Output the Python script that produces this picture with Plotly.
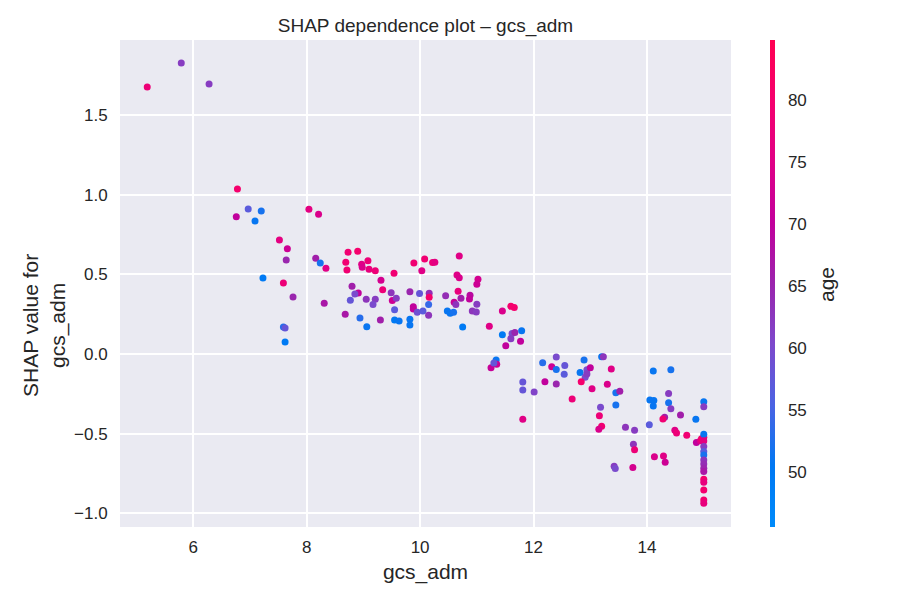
import plotly.graph_objects as go

gcs_adm = [5.19, 5.79, 6.28, 6.78, 6.76, 6.97, 7.20, 7.09, 7.52, 7.66, 7.64, 7.23, 7.59, 7.76, 7.59, 7.62, 7.62,
           8.04, 8.21, 8.16, 8.24, 8.34, 8.31, 8.68, 8.73, 8.90, 8.69, 8.71, 8.97, 9.08, 8.98, 9.10, 9.21,
           8.80, 8.91, 8.85, 8.77, 9.05, 9.21, 9.17, 8.94, 9.06, 9.30, 9.54, 9.31, 9.34, 9.49, 9.51, 9.58,
           9.55, 9.55, 9.63, 9.89, 10.08, 10.03, 10.22, 10.26, 9.82, 9.99, 10.16, 10.16, 9.88, 9.88, 10.15,
           9.95, 10.05, 10.15, 9.82, 9.82, 10.69, 10.65, 10.69, 11.02, 11.00, 10.45, 10.67, 10.60, 10.63,
           10.72, 10.88, 10.87, 11.00, 10.92, 10.99, 10.48, 10.53, 10.59, 10.75, 11.22, 11.45, 11.60, 11.66,
           11.45, 11.62, 11.67, 11.79, 11.60, 11.51, 11.77, 11.34, 11.35, 11.25, 11.30, 12.16, 12.40, 12.32,
           11.81, 11.81, 12.01, 11.81, 12.40, 12.55, 12.54, 12.20, 12.40, 12.68, 12.89, 12.82, 12.94, 13.00,
           12.91, 12.84, 13.03, 13.20, 13.23, 13.37, 13.30, 13.45, 13.52, 13.45, 13.18, 13.16, 13.20, 13.15,
           13.62, 13.78, 14.11, 14.42, 14.38, 14.05, 14.12, 14.11, 14.38, 14.42, 14.59, 14.31, 14.28, 14.86,
           14.04, 14.49, 14.52, 14.70, 13.76, 13.78, 13.75, 14.13, 14.29, 14.32, 14.87, 14.94, 14.96, 15.00,
           15.0, 15.0, 15.0, 15.0, 15.0, 15.0, 15.0, 15.0, 15.0, 15.0, 15.0, 15.0, 15.0, 15.0, 15.0, 15.0,
           13.42, 13.44, 12.94]

shap_values = [1.677, 1.828, 1.696, 1.036, 0.861, 0.911, 0.898, 0.835, 0.716, 0.660, 0.590, 0.477, 0.446, 0.358,
               0.170, 0.163, 0.075, 0.909, 0.878, 0.601, 0.572, 0.538, 0.318, 0.249, 0.639, 0.645, 0.576, 0.528,
               0.563, 0.586, 0.545, 0.532, 0.523, 0.425, 0.383, 0.377, 0.337, 0.344, 0.344, 0.310, 0.226, 0.171,
               0.214, 0.507, 0.463, 0.404, 0.385, 0.335, 0.350, 0.278, 0.214, 0.207, 0.572, 0.597, 0.523, 0.574,
               0.576, 0.391, 0.379, 0.381, 0.356, 0.297, 0.283, 0.310, 0.262, 0.270, 0.243, 0.218, 0.182, 0.616,
               0.496, 0.479, 0.469, 0.438, 0.366, 0.394, 0.325, 0.310, 0.350, 0.369, 0.345, 0.312, 0.270, 0.264,
               0.270, 0.256, 0.262, 0.170, 0.174, 0.270, 0.299, 0.291, 0.121, 0.128, 0.134, 0.145, 0.096, 0.052,
               0.080, -0.038, -0.065, -0.086, -0.057, -0.055, -0.019, -0.080, -0.176, -0.226, -0.239, -0.410,
               -0.098, -0.073, -0.128, -0.174, -0.188, -0.283, -0.038, -0.117, -0.100, -0.086, -0.146, -0.174,
               -0.218, -0.017, -0.017, -0.094, -0.190, -0.243, -0.235, -0.320, -0.335, -0.388, -0.454, -0.473,
               -0.460, -0.479, -0.107, -0.099, -0.249, -0.289, -0.293, -0.327, -0.306, -0.345, -0.383, -0.398,
               -0.408, -0.410, -0.444, -0.479, -0.496, -0.511, -0.567, -0.601, -0.714, -0.645, -0.641, -0.680,
               -0.557, -0.546, -0.532, -0.523,
               -0.300, -0.331, -0.505, -0.547, -0.582, -0.613, -0.634, -0.666, -0.691, -0.718, -0.739, -0.787,
               -0.806, -0.854, -0.917, -0.938,
               -0.705, -0.720, -0.126]

age = [78, 62, 62, 80, 70, 57, 52, 51, 76, 72, 65, 50, 78, 65, 53, 58, 50,
       76, 74, 66, 52, 75, 67, 67, 79, 80, 79, 79, 75, 78, 74, 77, 78,
       66, 70, 60, 58, 63, 62, 60, 53, 51, 66, 79, 73, 78, 63, 72, 62,
       57, 50, 51, 79, 79, 75, 78, 76, 65, 58, 64, 80, 70, 70, 54,
       59, 57, 63, 51, 51, 75, 75, 74, 73, 72, 64, 77, 71, 63,
       66, 69, 70, 62, 63, 62, 51, 51, 52, 50, 75, 74, 80, 80,
       50, 60, 65, 51, 62, 70, 70, 51, 72, 71, 58, 53, 60, 72,
       58, 58, 61, 75, 52, 58, 57, 70, 65, 78, 52, 51, 60, 70,
       60, 80, 75, 51, 63, 75, 74, 52, 66, 52, 60, 78, 79, 74,
       63, 62, 51, 52, 62, 51, 51, 51, 52, 62, 66, 66, 79, 51,
       57, 75, 78, 79, 63, 78, 73, 74, 75, 72, 70, 75, 80, 78,
       51, 62, 51, 76, 62, 57, 52, 63, 64, 65, 67, 80, 77, 80, 80, 77,
       62, 60, 62]

age_ticks = [50, 55, 60, 65, 70, 75, 80]
x_ticks = [6, 8, 10, 12, 14]
y_ticks = [-1.0, -0.5, 0.0, 0.5, 1.0, 1.5]

shap_red_blue = [[0.0, "#008bfb"], [0.125, "#0078f3"], [0.25, "#4b63e3"], [0.375, "#7d49cc"],
                 [0.5, "#9b24ad"], [0.625, "#c2009c"], [0.75, "#e00086"], [0.875, "#f5006d"],
                 [1.0, "#ff0052"]]

FONT = "Liberation Sans, Arial, sans-serif"
TXT = "#262626"

fig = go.Figure(go.Scatter(
    x=gcs_adm, y=shap_values, mode="markers",
    marker=dict(size=7, color=age, colorscale=shap_red_blue, cmin=45.6, cmax=84.85,
                line=dict(width=0),
                colorbar=dict(
                    thickness=5, x=1.0638, xanchor="left", xref="paper", xpad=0, ypad=0,
                    y=0.5, yanchor="middle", len=1.0, lenmode="fraction",
                    outlinewidth=0, tickvals=age_ticks,
                    ticks="outside", ticklen=10, tickcolor="rgba(0,0,0,0)",
                    tickfont=dict(family=FONT, size=17, color=TXT),
                )),
    showlegend=False, hoverinfo="skip"))

fig.update_layout(
    width=903, height=603,
    margin=dict(l=120, r=172, t=40, b=76),
    paper_bgcolor="white", plot_bgcolor="#EAEAF2",
    title=dict(text="SHAP dependence plot – gcs_adm", x=0.5, xref="paper", xanchor="center",
               y=1 - 25 / 603, yref="container", yanchor="middle",
               font=dict(family=FONT, size=19, color=TXT)),
    font=dict(family=FONT, color=TXT),
    annotations=[
        dict(text="SHAP value for<br>gcs_adm", textangle=-90, xref="paper", yref="paper",
             x=(45 - 120) / 611, y=(527 - 326) / 487, xanchor="center", yanchor="middle",
             showarrow=False, align="center", font=dict(family=FONT, size=21, color=TXT)),
        dict(text="age", textangle=-90, xref="paper", yref="paper",
             x=(826 - 120) / 611, y=(527 - 285) / 487, xanchor="center", yanchor="middle",
             showarrow=False, font=dict(family=FONT, size=21, color=TXT)),
    ],
)
fig.update_xaxes(range=[4.71, 15.48], tickvals=x_ticks, showgrid=True,
                 gridcolor="white", gridwidth=1.6, zeroline=False, showline=False,
                 ticks="outside", ticklen=5, tickcolor="rgba(0,0,0,0)",
                 tickfont=dict(size=17, color=TXT),
                 title=dict(text="gcs_adm", font=dict(size=21, color=TXT), standoff=7))
fig.update_yaxes(range=[-1.087, 1.972], tickvals=y_ticks, tickformat=".1f",
                 showgrid=True, gridcolor="white", gridwidth=1.6, zeroline=False, showline=False,
                 ticks="outside", ticklen=8, tickcolor="rgba(0,0,0,0)",
                 tickfont=dict(size=17, color=TXT))

fig.write_html("out.html")
